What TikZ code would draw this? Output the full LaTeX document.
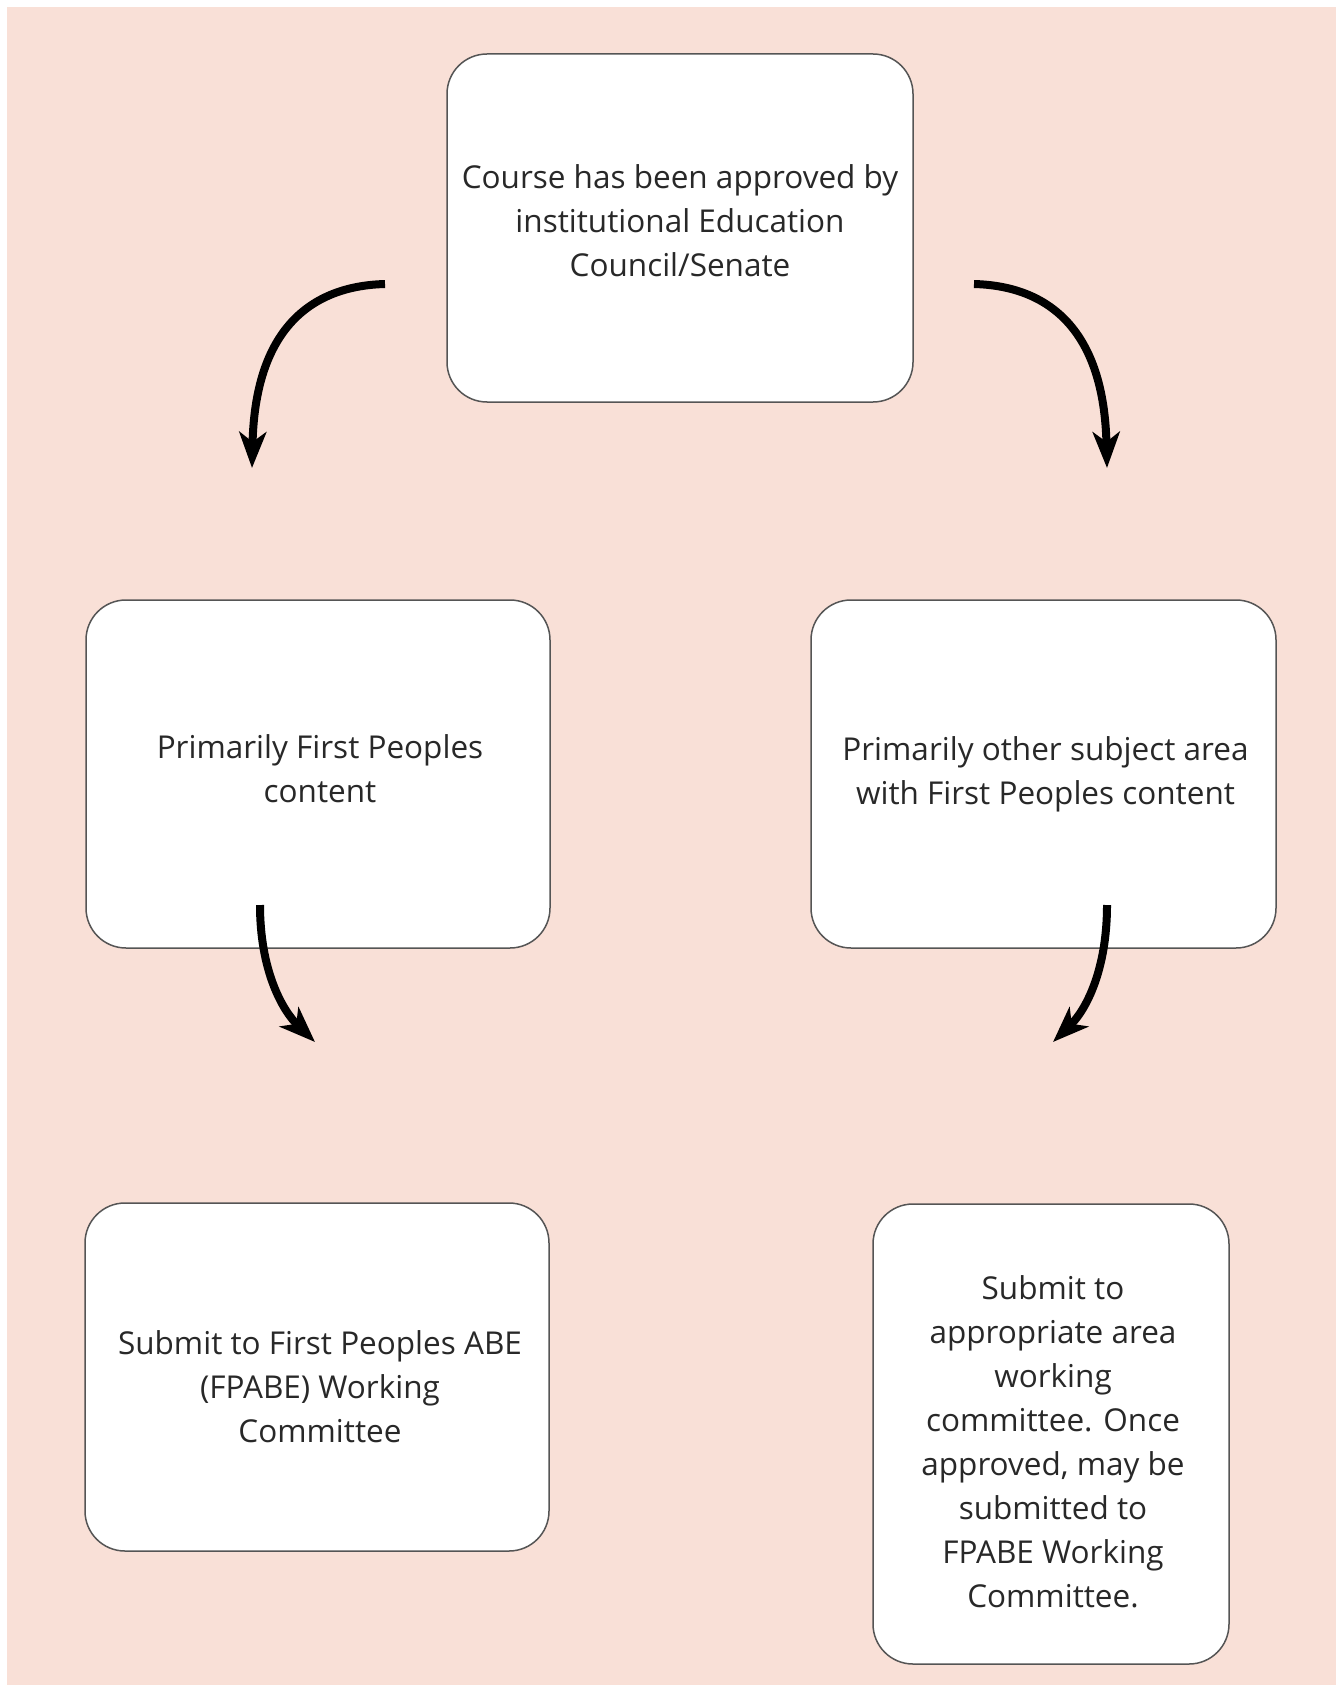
\documentclass[tikz,border=0pt]{standalone}
\usepackage{fontspec}
\setmainfont{Open Sans}
\usetikzlibrary{arrows.meta,calc}
\definecolor{bg}{RGB}{249,224,215}
\definecolor{txt}{RGB}{40,40,40}
\definecolor{edgec}{RGB}{85,85,85}
\begin{document}
\begin{tikzpicture}[x=1pt,y=-1pt,
  box/.style={draw=edgec, line width=1.5pt, fill=white, rounded corners=40pt, inner sep=0pt},
  lbl/.style={align=center, text=txt, font=\fontsize{31.5}{44}\selectfont, inner sep=0pt},
  flow/.style={line width=8pt, -{Stealth[length=36pt,width=27pt,inset=10pt]}}]
\useasboundingbox (0,0) rectangle (1336,1685);
\fill[bg] (7,7) rectangle (1336,1685);
\node[box, minimum width=466pt, minimum height=348pt] (top) at (680,228) {};
\node[box, minimum width=464pt, minimum height=348pt] (ml) at (318,774) {};
\node[box, minimum width=465pt, minimum height=348pt] (mr) at (1043.5,774) {};
\node[box, minimum width=464pt, minimum height=348pt] (bl) at (317,1377) {};
\node[box, minimum width=356pt, minimum height=460pt] (br) at (1051,1434) {};
\node[lbl] (topt) at ($(top)+(0,-7.5)$)
  {Course has been approved by\\institutional Education\\Council/Senate};
\node[lbl] (mlt) at ($(ml)+(2,-5)$) {Primarily First Peoples\\content};
\node[lbl] (mrt) at ($(mr)+(2,0)$) {Primarily other subject area\\with First Peoples content};
\node[lbl] (blt) at ($(bl)+(3,10)$) {Submit to First Peoples ABE\\(FPABE) Working\\Committee};
\node[lbl] (brt) at ($(br)+(2,7.5)$)
  {Submit to\\appropriate area\\working\\committee. Once\\approved, may be\\submitted to\\FPABE Working\\Committee.};
\coordinate (a1s) at (385,284); \coordinate (a1e) at (252,468);
\coordinate (a2s) at (974,284); \coordinate (a2e) at (1107,468);
\coordinate (a3s) at (260,905); \coordinate (a3e) at (315,1042);
\coordinate (a4s) at (1107,905); \coordinate (a4e) at (1053,1042);
\draw[flow] (a1s) .. controls (310,286) and (255,330) .. (a1e);
\draw[flow] (a2s) .. controls (1049,286) and (1104,330) .. (a2e);
\draw[flow] (a3s) .. controls (260,970) and (282,1010) .. (a3e);
\draw[flow] (a4s) .. controls (1107,970) and (1086,1010) .. (a4e);
\end{tikzpicture}
\end{document}
